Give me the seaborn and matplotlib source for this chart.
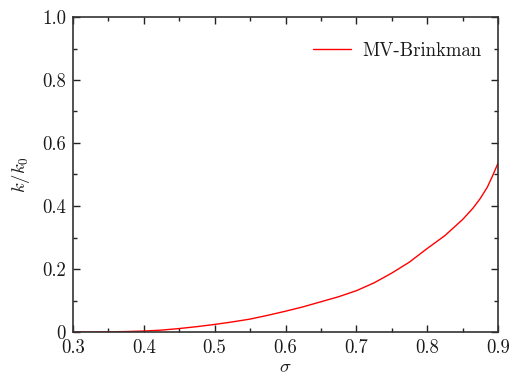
import matplotlib
matplotlib.use("Agg")
import matplotlib.pyplot as plt
import seaborn as sns
import pandas as pd
from matplotlib.ticker import MultipleLocator, FixedLocator, FixedFormatter

sigma = [0.300, 0.325, 0.350, 0.375, 0.400, 0.425, 0.450, 0.475, 0.500, 0.525,
         0.550, 0.575, 0.600, 0.625, 0.650, 0.675, 0.700, 0.725, 0.750, 0.775,
         0.800, 0.825, 0.850, 0.865, 0.875, 0.885, 0.893, 0.900]
k_ratio = [0.000, 0.000, 0.0005, 0.0015, 0.003, 0.006, 0.011, 0.017, 0.024, 0.032,
           0.041, 0.053, 0.066, 0.080, 0.096, 0.112, 0.131, 0.156, 0.187, 0.222,
           0.265, 0.306, 0.357, 0.394, 0.424, 0.460, 0.499, 0.536]
series_name = "MV-Brinkman"
xticks = [0.3, 0.4, 0.5, 0.6, 0.7, 0.8, 0.9]
xticklabels = ["0.3", "0.4", "0.5", "0.6", "0.7", "0.8", "0.9"]
yticks = [0.0, 0.2, 0.4, 0.6, 0.8, 1.0]
yticklabels = ["0", "0.2", "0.4", "0.6", "0.8", "1.0"]

sns.set_style("ticks")
plt.rcParams["font.family"] = "serif"
plt.rcParams["font.serif"] = ["cmr10"]
plt.rcParams["mathtext.fontset"] = "cm"
plt.rcParams["axes.formatter.use_mathtext"] = True
plt.rcParams["axes.unicode_minus"] = False

df = pd.DataFrame({"sigma": sigma, "k": k_ratio, "model": series_name})

fig = plt.figure(figsize=(5.16, 3.77), dpi=100)
ax = fig.add_axes([73/516, 45/377, (498-73)/516, (332-17)/377])
sns.lineplot(data=df, x="sigma", y="k", hue="model", palette=["#ff0000"],
             linewidth=1.0, ax=ax)

ax.set_xlim(0.3, 0.9)
ax.set_ylim(0.0, 1.0)
ax.xaxis.set_major_locator(FixedLocator(xticks))
ax.xaxis.set_major_formatter(FixedFormatter(xticklabels))
ax.yaxis.set_major_locator(FixedLocator(yticks))
ax.yaxis.set_major_formatter(FixedFormatter(yticklabels))
ax.xaxis.set_minor_locator(MultipleLocator(0.05))
ax.yaxis.set_minor_locator(MultipleLocator(0.1))
ax.tick_params(which="both", direction="in", top=True, right=True,
               colors="#222222", labelcolor="#1a1a1a", width=1.0)
ax.tick_params(which="major", length=5, labelsize=13.5)
ax.tick_params(axis="x", which="major", pad=5)
ax.tick_params(axis="y", which="major", pad=5)
ax.tick_params(which="minor", length=3)
for s in ax.spines.values():
    s.set_color("#333333")
    s.set_linewidth(1.2)

ax.set_xlabel(r"$\sigma$", fontsize=13.5, color="#1a1a1a", labelpad=1)
ax.set_ylabel(r"$k/k_0$", fontsize=13.5, color="#1a1a1a", labelpad=7)

leg = ax.legend(loc="upper right", bbox_to_anchor=(1.0, 0.975), frameon=False,
                fontsize=13.5, handlelength=2.0, handletextpad=0.6,
                borderaxespad=0.5)
for t in leg.get_texts():
    t.set_color("#1a1a1a")

fig.savefig("out.png", dpi=100)
